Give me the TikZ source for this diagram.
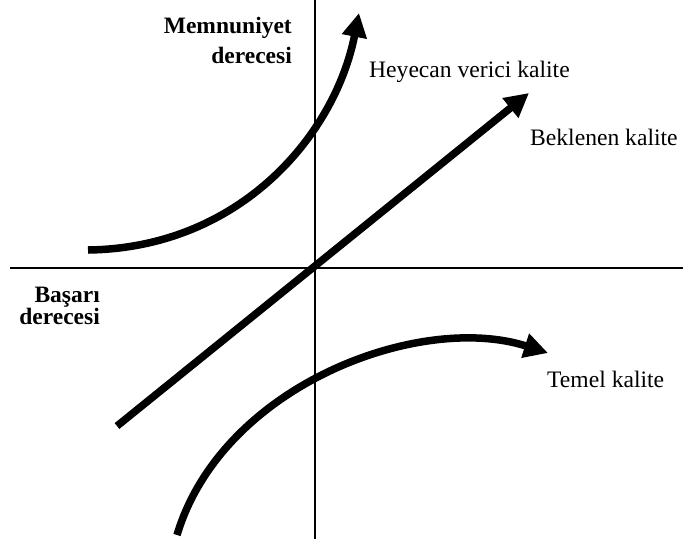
\documentclass[tikz,border=0pt]{standalone}
\usepackage{fontspec}
\setmainfont{Liberation Serif}
\usetikzlibrary{arrows.meta}
\begin{document}
\begin{tikzpicture}[x=1pt,y=-1pt,
  axis/.style={line width=1.3pt},
  curve/.style={line width=7.5pt,-{Triangle[length=24pt,width=24pt]}},
  lbl/.style={font=\fontsize{23.6}{28}\selectfont,inner sep=0pt},
  blbl/.style={inner sep=0pt,align=right}]
\useasboundingbox (0,0) rectangle (683,539);
\coordinate (xl) at (10,268);
\coordinate (xr) at (683,268);
\coordinate (yt) at (315,0);
\coordinate (yb) at (315,539);
\draw[axis] (xl) -- (xr);
\draw[axis] (yt) -- (yb);
\coordinate (h0) at (88,250);
\coordinate (h1) at (359,13);
\draw[curve] (h0) .. controls (240,248) and (335,135) .. (h1);
\coordinate (b0) at (117,426);
\coordinate (b1) at (529,93);
\draw[curve] (b0) -- (b1);
\coordinate (t0) at (177,535);
\coordinate (t1) at (548,353);
\draw[curve] (t0) .. controls (222,385) and (420,312) .. (t1);
\node[lbl,anchor=base west] (hl) at (369,77) {Heyecan verici kalite};
\node[lbl,anchor=base west] (bl) at (530,145) {Beklenen kalite};
\node[lbl,anchor=base west] (tl) at (547,387) {Temel kalite};
\node[blbl,anchor=north east,font=\fontsize{23.5}{30}\selectfont\bfseries] (my) at (292,17) {Memnuniyet\\derecesi};
\node[blbl,anchor=north east,font=\fontsize{23.5}{21}\selectfont\bfseries] (bx) at (100,287) {Başarı\\derecesi};
\end{tikzpicture}
\end{document}
